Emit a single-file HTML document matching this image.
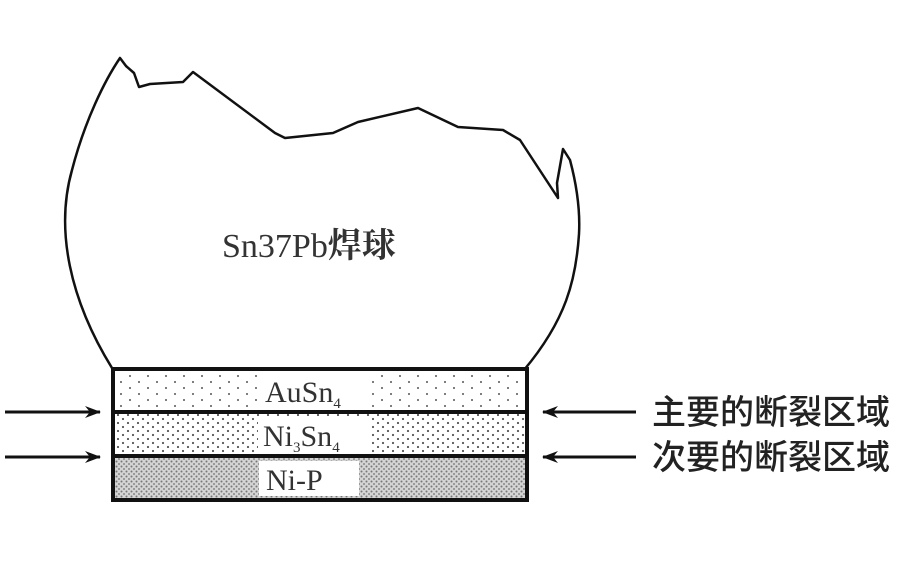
<!DOCTYPE html>
<html><head><meta charset="utf-8"><style>
html,body{margin:0;padding:0;background:#fff}
svg{display:block}
</style></head><body>
<svg width="900" height="562" viewBox="0 0 900 562" xmlns="http://www.w3.org/2000/svg">
<defs>
<pattern id="p1" width="18" height="12" patternUnits="userSpaceOnUse"><circle cx="4" cy="4" r="1" fill="#555"/><circle cx="13" cy="10" r="1" fill="#555"/></pattern>
<pattern id="p2" width="10" height="8" patternUnits="userSpaceOnUse"><circle cx="3" cy="3" r="1.1" fill="#555"/><circle cx="8" cy="7" r="1.1" fill="#555"/></pattern>
<pattern id="p3" width="5" height="5" patternUnits="userSpaceOnUse"><rect width="5" height="5" fill="#d4d4d4"/><circle cx="1.5" cy="1.5" r="1" fill="#777"/><circle cx="4" cy="4" r="1" fill="#888"/></pattern>
<marker id="ah" markerWidth="16" markerHeight="12" refX="15" refY="6" orient="auto" markerUnits="userSpaceOnUse"><path d="M0,0 L16,6 L0,12 L5,6 Z" fill="#111"/></marker>
</defs>
<path d="M112,368 C70,300 55,230 72,170 C85,120 105,80 120,58 L126,66 L134,73 L139,87 L150,84 L183,82 L193,72 L275,133 L285,138 L333,133 L358,122 L418,108 L458,127 L503,130 L520,140 L558,198 L557,183 L563,149 L570,160 C578,190 580,215 579,234 C576,280 566,320 524,370" fill="none" stroke="#111" stroke-width="2.5" stroke-linejoin="round"/>
<rect x="113" y="369" width="414" height="43" fill="url(#p1)"/>
<rect x="113" y="412" width="414" height="44" fill="url(#p2)"/>
<rect x="113" y="456" width="414" height="44" fill="url(#p3)"/>
<rect x="113" y="369" width="414" height="131" fill="none" stroke="#111" stroke-width="4"/>
<line x1="113" y1="412" x2="527" y2="412" stroke="#111" stroke-width="4"/>
<line x1="113" y1="456" x2="527" y2="456" stroke="#111" stroke-width="4"/>
<rect x="260" y="374" width="106" height="34" fill="#fff"/>
<rect x="258" y="417" width="114" height="36" fill="#fff"/>
<rect x="259" y="461" width="100" height="35" fill="#fff"/>
<g font-family="Liberation Serif, serif" font-size="30" fill="#333">
<text x="265" y="402">AuSn<tspan font-size="15" dy="6">4</tspan></text>
<text x="263" y="446">Ni<tspan font-size="15" dy="6">3</tspan><tspan dy="-6">Sn</tspan><tspan font-size="15" dy="6">4</tspan></text>
<text x="266" y="490">Ni-P</text>
<text x="222" y="257" font-size="34">Sn37Pb<tspan font-family="Noto Serif CJK SC, serif" font-weight="bold">焊球</tspan></text>
</g>
<g stroke="#111" stroke-width="3">
<line x1="5" y1="412" x2="100" y2="412" marker-end="url(#ah)"/>
<line x1="5" y1="457" x2="100" y2="457" marker-end="url(#ah)"/>
<line x1="636" y1="412" x2="543" y2="412" marker-end="url(#ah)"/>
<line x1="636" y1="457" x2="543" y2="457" marker-end="url(#ah)"/>
</g>
<g font-family="Liberation Sans, Noto Sans CJK SC, sans-serif" font-size="34" font-weight="500" fill="#222">
<text x="652" y="424">主要的断裂区域</text>
<text x="652" y="469">次要的断裂区域</text>
</g>
</svg>
</body></html>
